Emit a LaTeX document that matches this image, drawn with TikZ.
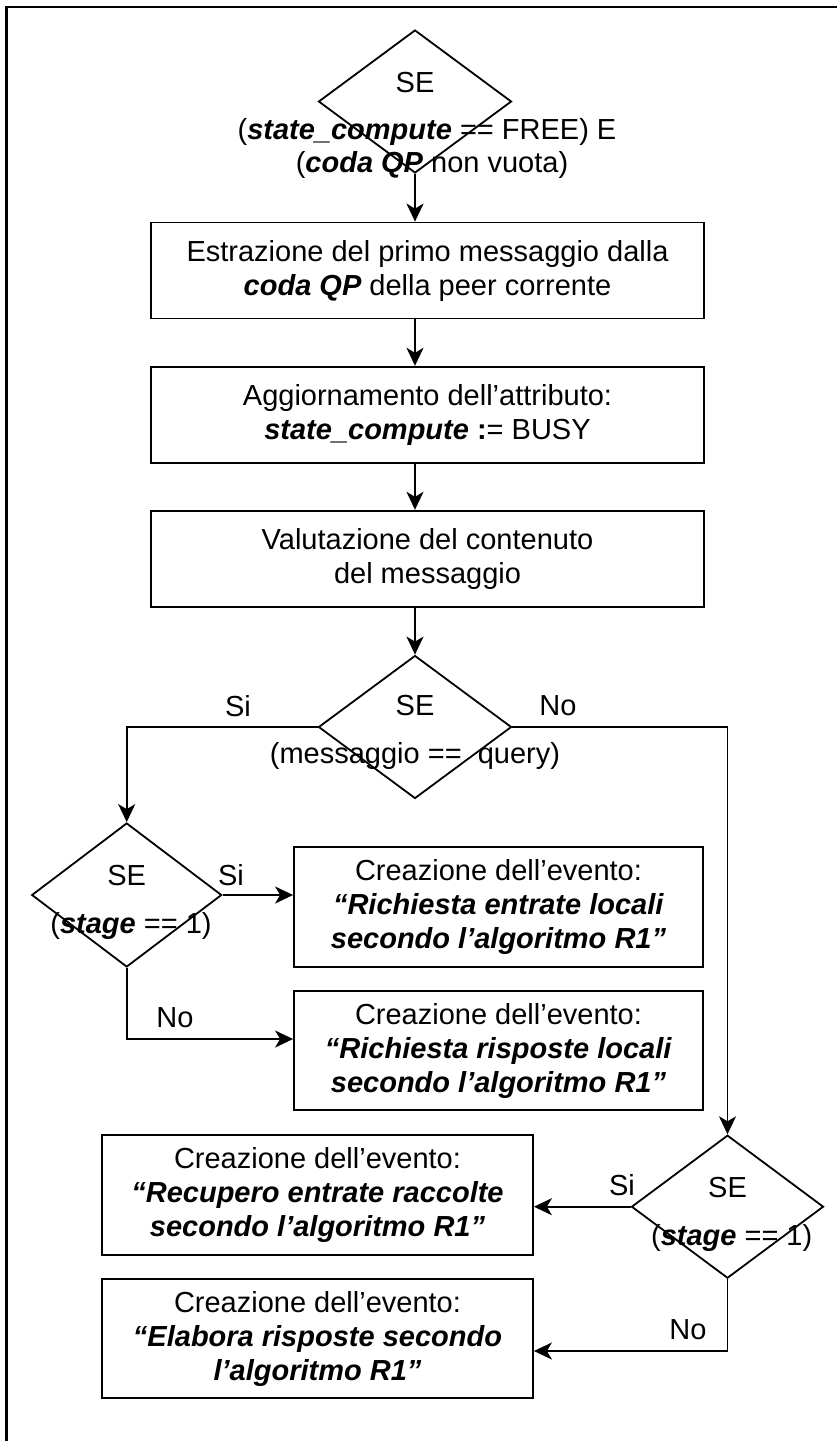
\documentclass[tikz,border=0pt]{standalone}
\usepackage{fontspec}
\setmainfont{Liberation Sans}
\usetikzlibrary{shapes.geometric,arrows.meta}
\newcommand{\bfit}[1]{\textbf{\textit{#1}}}
\begin{document}
\begin{tikzpicture}[x=1pt,y=-1pt,
  every node/.style={font=\fontsize{29}{34}\selectfont},
  box/.style={draw,line width=1.8pt,rectangle,inner sep=0pt,align=center},
  cond/.style={draw,line width=1.8pt,diamond,inner sep=0pt},
  lbl/.style={anchor=base,inner sep=0pt},
  arr/.style={line width=1.6pt,-{Stealth[length=18pt,width=17pt,inset=5pt]}},
  frame/.style={line width=2.4pt}]
\useasboundingbox (0,0) rectangle (837,1441);
% page frame
\draw[frame] (6.5,1441) -- (6.5,7) -- (837,7);

% decisions
\node[cond,minimum width=193,minimum height=143] (d1) at (415,101.5) {};
\node[cond,minimum width=193,minimum height=143] (d2) at (415,727) {};
\node[cond,minimum width=190,minimum height=144] (d3) at (126.7,895) {};
\node[cond,minimum width=192,minimum height=143] (d4) at (727.5,1206.7) {};

% process boxes
\node[box,minimum width=553,minimum height=96] (b1) at (427.5,270.5)
  {Estrazione del primo messaggio dalla\\\bfit{coda QP} della peer corrente};
\node[box,minimum width=553,minimum height=96] (b2) at (427.5,414.7)
  {Aggiornamento dell’attributo:\\\bfit{state\_compute} \textbf{:}= BUSY};
\node[box,minimum width=553,minimum height=96] (b3) at (427.5,558.7)
  {Valutazione del contenuto\\del messaggio};
\node[box,minimum width=409,minimum height=119.5] (b4) at (498.5,907)
  {Creazione dell’evento:\\\bfit{“Richiesta entrate locali}\\\bfit{secondo l’algoritmo R1”}};
\node[box,minimum width=409,minimum height=119.5] (b5) at (498.5,1050.5)
  {Creazione dell’evento:\\\bfit{“Richiesta risposte locali}\\\bfit{secondo l’algoritmo R1”}};
\node[box,minimum width=431,minimum height=120] (b6) at (317.5,1195)
  {Creazione dell’evento:\\\bfit{“Recupero entrate raccolte}\\\bfit{secondo l’algoritmo R1”}};
\node[box,minimum width=431,minimum height=119] (b7) at (317.5,1338.8)
  {Creazione dell’evento:\\\bfit{“Elabora risposte secondo}\\\bfit{l’algoritmo R1”}};

% decision texts
\node[lbl] (s1) at (415,92) {SE};
\node[lbl] (c1a) at (427,139) {(\bfit{state\_compute} == FREE) E};
\node[lbl] (c1b) at (432,172) {(\bfit{coda QP} non vuota)};
\node[lbl] (s2) at (415,715) {SE};
\node[lbl] (c2) at (415,763) {(messaggio ==\ \ query)};
\node[lbl] (s3) at (126.7,885) {SE};
\node[lbl] (c3) at (131,933) {(\bfit{stage} == 1)};
\node[lbl] (s4) at (727.5,1197) {SE};
\node[lbl] (c4) at (731.7,1245) {(\bfit{stage} == 1)};

% branch labels
\node[lbl] (y2) at (238,716) {Si};
\node[lbl] (n2) at (558,715) {No};
\node[lbl] (y3) at (231,885) {Si};
\node[lbl] (n3) at (175,1027) {No};
\node[lbl] (y4) at (622,1195) {Si};
\node[lbl] (n4) at (688,1339) {No};

% connectors
\coordinate (k3) at (126.7,1039);
\coordinate (k4) at (727.5,1351);
\draw[arr] (d1.south) -- (d1.south |- b1.north);
\draw[arr] (d1.south |- b1.south) -- (d1.south |- b2.north);
\draw[arr] (d1.south |- b2.south) -- (d1.south |- b3.north);
\draw[arr] (d2.north |- b3.south) -- (d2.north);
\draw[arr] (d2.west) -| (d3.north);
\draw[arr] (d2.east) -| (d4.north);
\draw[arr] (d3.east) -- (d3.east -| b4.west);
\draw[arr] (d3.south) -- (k3) -- (k3 -| b5.west);
\draw[arr] (d4.west) -- (d4.west -| b6.east);
\draw[arr] (d4.south) -- (k4) -- (k4 -| b7.east);
\end{tikzpicture}
\end{document}
